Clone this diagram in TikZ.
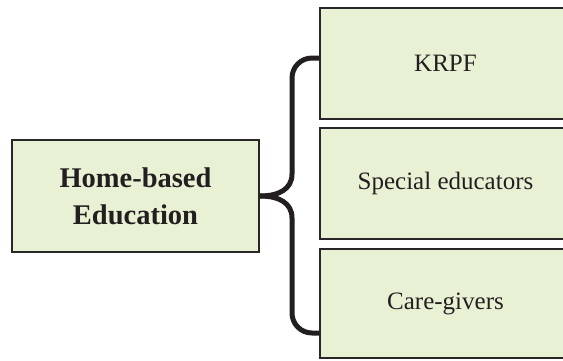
\documentclass[tikz,border=0pt]{standalone}
\usepackage{fontspec}
\setmainfont{Liberation Serif}
\definecolor{boxfill}{RGB}{233,241,213}
\definecolor{boxline}{RGB}{40,38,38}
\definecolor{inkdark}{RGB}{35,31,32}
\begin{document}
\begin{tikzpicture}[x=1pt,y=-1pt,
  box/.style={draw=boxline, line width=2pt, fill=boxfill, rectangle,
    inner sep=0pt, text=inkdark, align=center},
  leafbox/.style={box, minimum width=251pt, font=\fontsize{25}{30}\selectfont},
  rootbox/.style={box, minimum width=247pt, minimum height=112pt,
    font=\fontsize{28.5}{37}\selectfont\bfseries},
  brace/.style={draw=inkdark, line width=5pt}]
  \useasboundingbox (0,0) rectangle (563,360);
  \clip (0,0) rectangle (563,360);
  \fill[white] (0,0) rectangle (563,360);

  % root node and its three branches
  \node[rootbox] (home) at (135.5,196) {Home-based\\Education};
  \node[leafbox, minimum height=111pt] (krpf) at (445.5,63.5) {KRPF};
  \node[leafbox, minimum height=111pt] (spec) at (445.5,183.5) {Special educators};
  \node[leafbox, minimum height=109pt] (care) at (445.5,303.5) {Care-givers};

  % curly brace joining the root to the first and last branch
  \draw[brace] (home.east) .. controls (279,196) and (292,189) .. (292,174)
    [rounded corners=20pt] -- (292,58) -- (krpf.west |- 0,58);
  \draw[brace] (home.east) .. controls (279,196) and (292,203) .. (292,218)
    [rounded corners=20pt] -- (292,333) -- (care.west |- 0,333);
\end{tikzpicture}
\end{document}
